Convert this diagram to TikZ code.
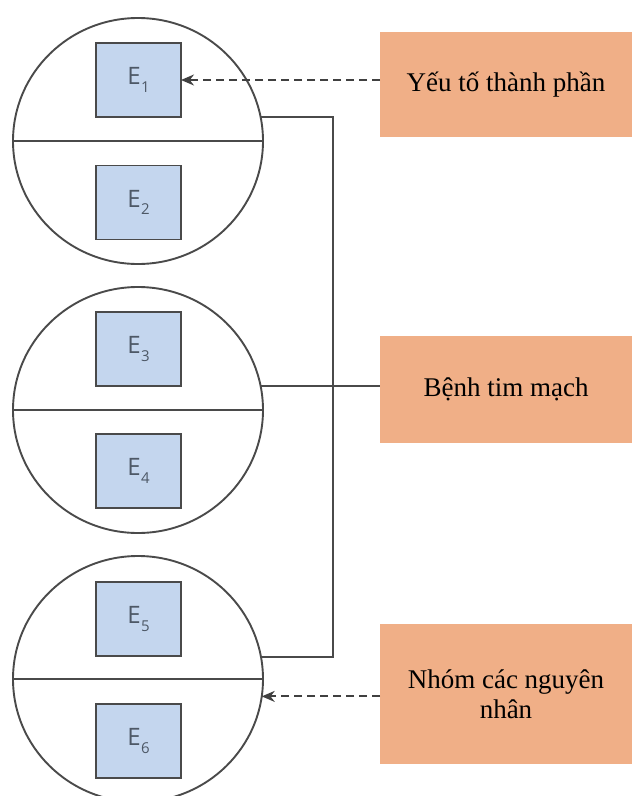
\documentclass[tikz,border=0pt]{standalone}
\usepackage{fontspec}
\setmainfont{Liberation Serif}
\newfontfamily\efont{Open Sans}
\usetikzlibrary{shapes.geometric,arrows.meta}
\definecolor{orangebox}{HTML}{F0AF87}
\definecolor{bluebox}{HTML}{C4D6EE}
\definecolor{edge}{HTML}{4A4A4A}
\definecolor{etext}{HTML}{4D5866}
\newcommand{\elab}[1]{{\efont\fontsize{24}{28}\selectfont E\kern0.5pt\raisebox{-0.3em}{\fontsize{15}{17}\selectfont #1}}}
\tikzset{
  circ/.style={ellipse, draw=edge, line width=1.9pt, minimum width=250pt, minimum height=246pt, inner sep=0pt, outer sep=0pt},
  ebox/.style={rectangle, draw=edge, line width=1.9pt, fill=bluebox, minimum width=85pt, minimum height=74pt, inner sep=0pt, outer sep=0pt, text=etext},
  obox/.style={rectangle, fill=orangebox, minimum width=252pt, inner sep=0pt, outer sep=0pt, align=center, font=\fontsize{27}{30}\selectfont},
  link/.style={draw=edge, line width=1.9pt},
  dashlink/.style={draw=black!75, line width=1.9pt, dash pattern=on 8pt off 5pt, -{Stealth[length=13pt,width=11pt]}}
}
\begin{document}
\begin{tikzpicture}[x=1pt,y=-1pt]
\useasboundingbox (0,0) rectangle (632,796);
% circles
\node[circ] (c1) at (138,141) {};
\node[circ] (c2) at (138,410) {};
\node[circ] (c3) at (138,679) {};
\draw[link] (c1.west) -- (c1.east);
\draw[link] (c2.west) -- (c2.east);
\draw[link] (c3.west) -- (c3.east);
% E boxes
\node[ebox] (e1) at (138.5,80) {\elab{1}};
\node[ebox] (e2) at (138.5,202.5) {\elab{2}};
\node[ebox] (e3) at (138.5,349) {\elab{3}};
\node[ebox] (e4) at (138.5,471) {\elab{4}};
\node[ebox] (e5) at (138.5,619) {\elab{5}};
\node[ebox] (e6) at (138.5,741) {\elab{6}};
% orange boxes
\node[obox, minimum height=105pt] (b1) at (506,84.5) {Yếu tố thành phần};
\node[obox, minimum height=107pt] (b2) at (506,389.5) {Bệnh tim mạch};
\node[obox, minimum height=140pt] (b3) at (506,694) {Nhóm các nguyên\\nhân};
% connectors
\coordinate (trunk) at (333,0);
\draw[link] (c1.11.6) -| (trunk |- c3.10.6) -- (c3.10.6);
\draw[link] (c2.11.1) -- (c2.11.1 -| b2.west);
% dashed arrows
\draw[dashlink] (b1.west |- e1.east) -- (e1.east);
\draw[dashlink] (b3.west |- c3.-8.7) -- (c3.-8.7);
\end{tikzpicture}
\end{document}
